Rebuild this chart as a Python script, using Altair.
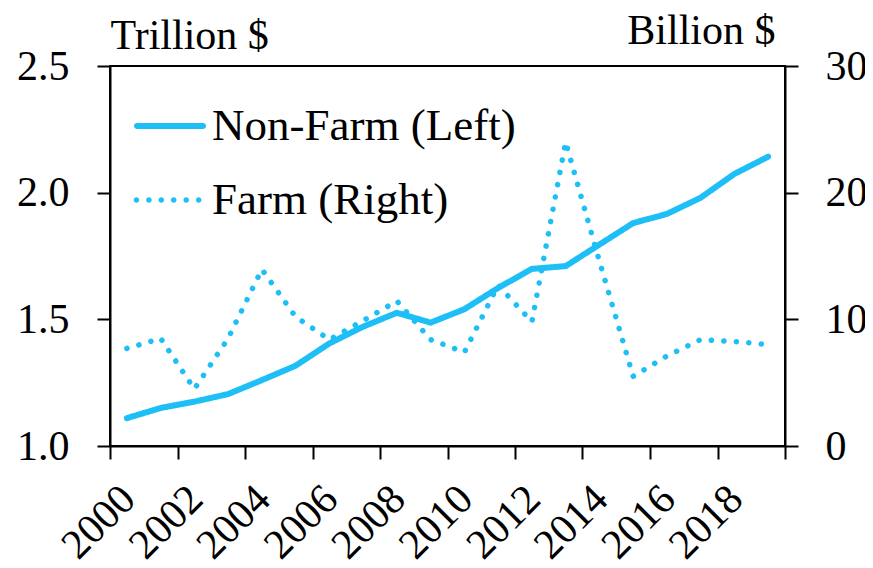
import altair as alt
import pandas as pd

years = list(range(2000, 2020))
nonfarm = [1.11, 1.15, 1.175, 1.205, 1.26, 1.317, 1.405, 1.471, 1.526, 1.487,
           1.54, 1.624, 1.699, 1.71, 1.795, 1.88, 1.916, 1.98, 2.074, 2.142]
farm = [7.7, 8.5, 4.5, 8.5, 13.95, 10.2, 8.4, 9.9, 11.45, 8.4,
        7.4, 12.7, 9.8, 24.0, 14.6, 5.5, 7.1, 8.4, 8.25, 8.0]
series_names = ["Non-Farm (Left)", "Farm (Right)"]
x_ticks = list(range(2000, 2021, 2))
left_ticks = [1.0, 1.5, 2.0, 2.5]
right_ticks = [0, 10, 20, 30]

BLUE = "#1EBFF6"
FONT = "Liberation Serif, Liberation Sans"
FS = 42

nf_df = pd.DataFrame({"year": years, "value": nonfarm, "series": series_names[0]})
fm_df = pd.DataFrame({"year": years, "value": farm, "series": series_names[1]})

# legend symbol shapes (unit square -1..1)
capsule = ("M-0.917,-0.083L0.917,-0.083A0.083,0.083 0 0,1 0.917,0.083"
           "L-0.917,0.083A0.083,0.083 0 0,1 -0.917,-0.083Z")
dot_centers = [-0.933, -0.586, -0.242, 0.103, 0.45, 0.797]
r = 0.078
dots = "".join(
    f"M{c - r:.3f},0A{r},{r} 0 1,0 {c + r:.3f},0A{r},{r} 0 1,0 {c - r:.3f},0Z"
    for c in dot_centers
)

x_enc = alt.X(
    "xpos:Q",
    scale=alt.Scale(domain=[2000, 2020], nice=False, zero=False),
    axis=alt.Axis(
        values=x_ticks, format="d", title=None, grid=False,
        labelExpr="datum.value < 2020 ? datum.label : ''",
        labelAngle=-45, labelAlign="right", labelBaseline="middle",
        labelPadding=33, labelOffset=18, labelOverlap=False, labelFlush=False,
        labelBound=False,
    ),
)


def legend(shape, ly):
    return alt.Legend(
        orient="none", legendX=24, legendY=ly, title=None,
        symbolType=shape, symbolSize=5184, symbolStrokeWidth=0,
        symbolFillColor=BLUE, symbolStrokeColor=BLUE, symbolOpacity=1,
        labelFont=FONT, labelFontSize=45, labelColor="black", labelOffset=6,
        labelLimit=0, padding=0, offset=0,
    )


nf = alt.Chart(nf_df).transform_calculate(xpos="datum.year + 0.5").mark_line(
    color=BLUE, strokeWidth=6, strokeCap="round", strokeJoin="round"
).encode(
    x=x_enc,
    y=alt.Y(
        "value:Q",
        scale=alt.Scale(domain=[1.0, 2.5], nice=False, zero=False),
        axis=alt.Axis(
            values=left_ticks, format=".1f", orient="left", grid=False,
            title="Trillion $", titleAngle=0, titleAlign="left", titleBaseline="alphabetic",
            titleX=0, titleY=-18, labelPadding=28,
        ),
    ),
    strokeDash=alt.StrokeDash(
        "series:N",
        scale=alt.Scale(domain=[series_names[0]], range=[[1, 0]]),
        legend=legend(capsule, 24),
    ),
)

fm = alt.Chart(fm_df).transform_calculate(xpos="datum.year + 0.5").mark_line(
    color=BLUE, strokeWidth=5.5, strokeCap="round", strokeJoin="round"
).encode(
    x=x_enc,
    y=alt.Y(
        "value:Q",
        scale=alt.Scale(domain=[0, 30], nice=False),
        axis=alt.Axis(
            values=right_ticks, format="d", orient="right", grid=False,
            title="Billion $", titleAngle=0, titleAlign="right", titleBaseline="alphabetic",
            titleX=-10, titleY=-23, labelPadding=27,
        ),
    ),
    strokeDash=alt.StrokeDash(
        "series:N",
        scale=alt.Scale(domain=[series_names[1]], range=[[0.1, 12.4]]),
        legend=legend(dots, 98),
    ),
)

chart = alt.layer(nf, fm).resolve_scale(
    y="independent", strokeDash="independent"
).resolve_legend(strokeDash="independent").properties(
    width=675, height=380, autosize="none",
    padding={"left": 102, "top": 58, "right": 80, "bottom": 114},
    background="white",
).configure_view(
    stroke="black", strokeWidth=2
).configure_axis(
    domainColor="black", domainWidth=2, tickColor="black", tickWidth=2, tickSize=13,
    labelFont=FONT, labelFontSize=FS, labelColor="black",
    titleFont=FONT, titleFontSize=FS, titleColor="black", titleFontWeight="normal",
)

chart.save("out.html", embed_options={"renderer": "svg", "actions": False})
